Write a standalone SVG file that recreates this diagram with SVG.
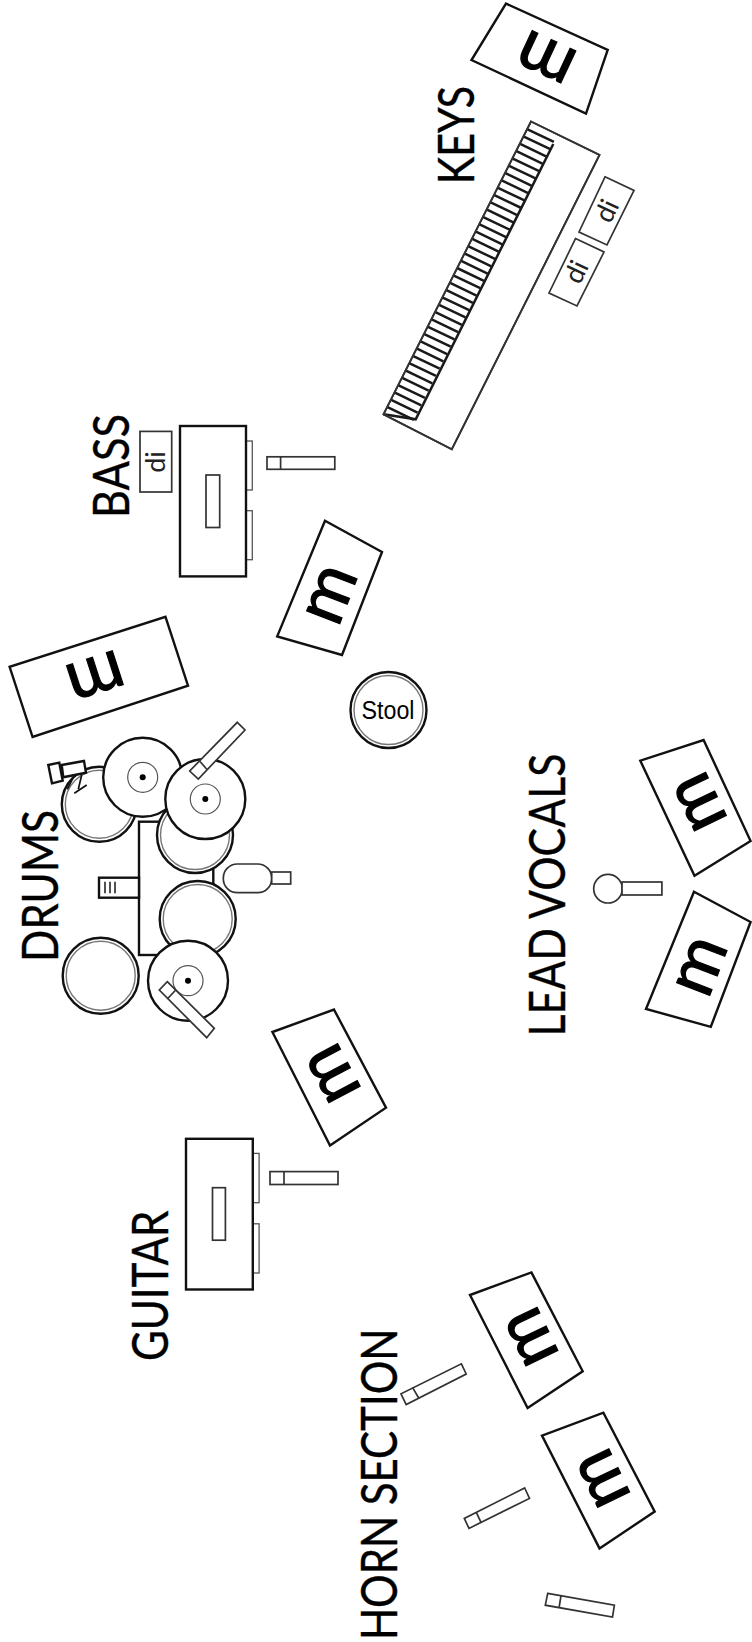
<svg xmlns="http://www.w3.org/2000/svg" width="752" height="1642" viewBox="0 0 752 1642">
<style>
.box{fill:#fff;stroke:#111;stroke-width:2.4;stroke-linejoin:miter}
.thin{fill:#fff;stroke:#333;stroke-width:1.7}
.side{fill:#fff;stroke:#555;stroke-width:1.3}
.ln{fill:none;stroke:#333;stroke-width:1.7}
.keys{fill:none;stroke:#1a1a1a;stroke-width:2.5}
.head{fill:#fff;stroke:#111;stroke-width:2.4}
.ring{fill:none;stroke:#777;stroke-width:1.4}
.hat{fill:none;stroke:#555;stroke-width:1.2}
.m{font-family:"Lato",sans-serif;font-size:70px;text-anchor:middle;fill:#000;stroke:#000;stroke-width:1.2}
.di{font-family:"Lato",sans-serif;font-size:27px;text-anchor:middle;fill:#222}
.lab{font-family:"Lato",sans-serif;font-size:50px;fill:#000;stroke:#000;stroke-width:.4}
</style>

<g id="keys-monitor"><polygon class="box" points="506,3.6 607.7,50 586,113.6 471.5,60"/><text class="m" transform="translate(546.7,57) rotate(205)" y="17.7">m</text></g>

<g id="keyboard">
<polygon class="thin" points="531,121.5 599.5,155 451.8,449.3 383.5,414.3"/>
<path class="keys" d="M553.3,144 L415.7,419.3 L383.5,414.3"/>
<path class="keys" d="M530.7,121.7 m-3.685,7.315 l26.9,12.9 m-30.585,-5.585 l26.9,12.9 m-30.585,-5.585 l26.9,12.9 m-30.585,-5.585 l26.9,12.9 m-30.585,-5.585 l26.9,12.9 m-30.585,-5.585 l26.9,12.9 m-30.585,-5.585 l26.9,12.9 m-30.585,-5.585 l26.9,12.9 m-30.585,-5.585 l26.9,12.9 m-30.585,-5.585 l26.9,12.9 m-30.585,-5.585 l26.9,12.9 m-30.585,-5.585 l26.9,12.9 m-30.585,-5.585 l26.9,12.9 m-30.585,-5.585 l26.9,12.9 m-30.585,-5.585 l26.9,12.9 m-30.585,-5.585 l26.9,12.9 m-30.585,-5.585 l26.9,12.9 m-30.585,-5.585 l26.9,12.9 m-30.585,-5.585 l26.9,12.9 m-30.585,-5.585 l26.9,12.9 m-30.585,-5.585 l26.9,12.9 m-30.585,-5.585 l26.9,12.9 m-30.585,-5.585 l26.9,12.9 m-30.585,-5.585 l26.9,12.9 m-30.585,-5.585 l26.9,12.9 m-30.585,-5.585 l26.9,12.9 m-30.585,-5.585 l26.9,12.9 m-30.585,-5.585 l26.9,12.9 m-30.585,-5.585 l26.9,12.9 m-30.585,-5.585 l26.9,12.9 m-30.585,-5.585 l26.9,12.9 m-30.585,-5.585 l26.9,12.9 m-30.585,-5.585 l26.9,12.9 m-30.585,-5.585 l26.9,12.9 m-30.585,-5.585 l26.9,12.9 m-30.585,-5.585 l26.9,12.9 m-30.585,-5.585 l26.9,12.9 m-30.585,-5.585 l26.9,12.9 m-30.585,-5.585 l26.9,12.9"/>
<polygon style="fill:none;stroke:#333;stroke-width:1.9" points="531,121.5 599.5,155 451.8,449.3 383.5,414.3"/>
</g>
<g id="keys-di-1"><polygon class="thin" points="605,176.8 634,190.4 607,245 579,232"/><text class="di" transform="translate(607,211) rotate(-65)" y="9">di</text></g>
<g id="keys-di-2"><polygon class="thin" points="575.5,238.6 604,252 577,306 549,293"/><text class="di" transform="translate(576.5,272) rotate(-65)" y="9">di</text></g>
<text id="label-keys" class="lab" transform="translate(474,184) rotate(-90)" textLength="98" lengthAdjust="spacingAndGlyphs">KEYS</text>

<g id="bass-amp"><rect class="side" x="246" y="441" width="6.3" height="49"/><rect class="side" x="246" y="510.7" width="6.3" height="49"/><rect class="box" x="180" y="426" width="66" height="150.4"/><rect class="thin" x="206" y="475" width="13.7" height="52.5"/></g>
<g id="bass-di"><rect class="thin" x="140" y="431.4" width="31.7" height="60.6"/><text class="di" transform="translate(164.5,462) rotate(-90)">di</text></g>
<g id="bass-mic"><rect class="thin" x="267" y="456.8" width="67.8" height="12.5"/><line class="ln" x1="280.6" y1="456.8" x2="280.6" y2="469.3"/></g>
<g id="bass-monitor"><polygon class="box" points="325,520.7 382,552 342,655 277.2,636.4"/><text class="m" transform="translate(331.7,595) rotate(-69)" y="17.7">m</text></g>
<text id="label-bass" class="lab" transform="translate(128.5,518) rotate(-90)" textLength="104" lengthAdjust="spacingAndGlyphs">BASS</text>

<g id="drums-monitor"><polygon class="box" points="165.5,616.8 188,685.7 32.6,737 9.6,666.8"/><text class="m" transform="translate(95,675) rotate(162)" y="17.7">m</text></g>
<g id="stool"><circle class="head" cx="388.5" cy="710" r="38"/><circle class="ring" cx="388.5" cy="710" r="34.5"/><text x="388" y="719" text-anchor="middle" font-family="Liberation Sans, sans-serif" font-size="25" textLength="53" lengthAdjust="spacingAndGlyphs" fill="#000">Stool</text></g>

<g id="drums">
<rect class="box" x="139" y="821.7" width="74.3" height="133.3"/>
<g id="kick-pedal"><rect class="box" x="99" y="877.7" width="40" height="20"/><path class="ln" d="M105,881.7V893.3M110,881.7V893.3M115,881.7V893.3"/></g>
<g id="tom-left"><circle class="head" cx="99.3" cy="804.3" r="37.5"/><circle class="ring" cx="99.3" cy="804.3" r="34"/></g>
<g id="clip-mic"><polygon class="box" points="48.3,765 59.3,762.7 62.7,780.7 52,783.3"/><polygon class="box" points="61.7,765 84,761 86,772.7 63.3,777.3"/><path class="ln" style="stroke:#111" d="M73.3,777.3L67.3,789.3M81.7,775L78.3,789.3M74.3,793.3L86.7,785"/></g>
<g id="cymbal-1"><circle class="head" cx="142.7" cy="777.3" r="39.5"/><circle class="hat" cx="142.7" cy="777.3" r="15"/><circle cx="142.7" cy="777.3" r="3" fill="#000"/></g>
<g id="tom-right"><circle class="head" cx="195" cy="835" r="38"/><circle class="ring" cx="195" cy="835" r="34.5"/></g>
<g id="cymbal-2"><circle class="head" cx="205.3" cy="799" r="40"/><circle class="hat" cx="205.3" cy="799" r="15"/><circle cx="205.3" cy="799" r="3" fill="#000"/></g>
<g id="cymbal-2-mic"><polygon class="thin" points="237.3,722.3 245,730 198.3,779 189.7,771"/><line class="ln" x1="200" y1="761.5" x2="207" y2="769.5"/></g>
<g id="tom-mid"><circle class="head" cx="197.7" cy="919" r="38"/><circle class="ring" cx="197.7" cy="919" r="34.5"/></g>
<g id="floor-tom"><circle class="head" cx="100.7" cy="975.7" r="38"/><circle class="ring" cx="100.7" cy="975.7" r="34.5"/></g>
<g id="cymbal-3"><circle class="head" cx="188" cy="980.7" r="40"/><circle class="hat" cx="188" cy="980.7" r="15"/><circle cx="188" cy="980.7" r="3" fill="#000"/></g>
<g id="cymbal-3-mic"><polygon class="thin" points="167.3,981.7 214.3,1028.3 206.7,1037.7 159.3,990"/><line class="ln" x1="175.7" y1="990" x2="167.3" y2="999"/></g>
<g id="kick-mic"><rect class="thin" x="223.3" y="864" width="48.4" height="28.7" rx="14" ry="14"/><rect class="thin" x="271.7" y="872" width="19" height="12"/></g>
</g>
<text id="label-drums" class="lab" transform="translate(57.5,962) rotate(-90)" textLength="152" lengthAdjust="spacingAndGlyphs">DRUMS</text>

<g id="vocal-monitor-1"><polygon class="box" points="703.6,740 750.6,841 694.5,875.7 640.3,760.7"/><text class="m" transform="translate(700,801.7) rotate(-115.6)" y="17.7">m</text></g>
<g id="vocal-monitor-2"><polygon class="box" points="694,891.8 750.6,922 710.8,1026.8 646,1009"/><text class="m" transform="translate(701.7,966.7) rotate(-69)" y="17.7">m</text></g>
<g id="vocal-mic"><circle class="thin" cx="608" cy="888.7" r="14.3"/><rect class="thin" x="622" y="882" width="39.9" height="13"/></g>
<text id="label-vocals" class="lab" transform="translate(564.5,1036.6) rotate(-90)" textLength="283" lengthAdjust="spacingAndGlyphs">LEAD VOCALS</text>

<g id="guitar-monitor"><polygon class="box" points="334,1009.6 386,1107.7 330,1145.6 272.4,1032"/><text class="m" transform="translate(333.3,1073.3) rotate(-118)" y="17.7">m</text></g>
<g id="guitar-amp"><rect class="side" x="252.8" y="1153.4" width="6.3" height="49.3"/><rect class="side" x="252.8" y="1223.8" width="6.3" height="49.2"/><rect class="box" x="186" y="1138.8" width="66.8" height="150.7"/><rect class="thin" x="212.5" y="1187.7" width="12.9" height="52.5"/></g>
<g id="guitar-mic"><rect class="thin" x="270" y="1171.6" width="68" height="12.9"/><line class="ln" x1="284" y1="1171.6" x2="284" y2="1184.5"/></g>
<text id="label-guitar" class="lab" transform="translate(168,1361) rotate(-90)" textLength="150.5" lengthAdjust="spacingAndGlyphs">GUITAR</text>

<g id="horn-monitor-1"><polygon class="box" points="531.4,1272.4 582.7,1371.3 527.6,1408 470,1295"/><text class="m" transform="translate(531.7,1336.7) rotate(-115.6)" y="17.7">m</text></g>
<g id="horn-monitor-2"><polygon class="box" points="603.4,1412.7 654.7,1511.6 599.5,1548.4 542,1435.6"/><text class="m" transform="translate(603.3,1478.3) rotate(-115.6)" y="17.7">m</text></g>
<g id="horn-mic-1"><polygon class="thin" points="461.4,1363.8 466.2,1374 406.2,1404.5 401,1393.8"/><line class="ln" x1="412.5" y1="1387.4" x2="418.7" y2="1398"/></g>
<g id="horn-mic-2"><polygon class="thin" points="524.7,1488 529.5,1498.4 469,1528.4 464.3,1518.4"/><line class="ln" x1="476.3" y1="1512.4" x2="481" y2="1522.4"/></g>
<g id="horn-mic-3"><polygon class="thin" points="547.7,1593.4 614.4,1605.2 612.5,1617 545.3,1605.2"/><line class="ln" x1="561" y1="1595.6" x2="559.2" y2="1607"/></g>
<text id="label-horn" class="lab" transform="translate(397,1640) rotate(-90)" textLength="311.3" lengthAdjust="spacingAndGlyphs">HORN SECTION</text>
</svg>
